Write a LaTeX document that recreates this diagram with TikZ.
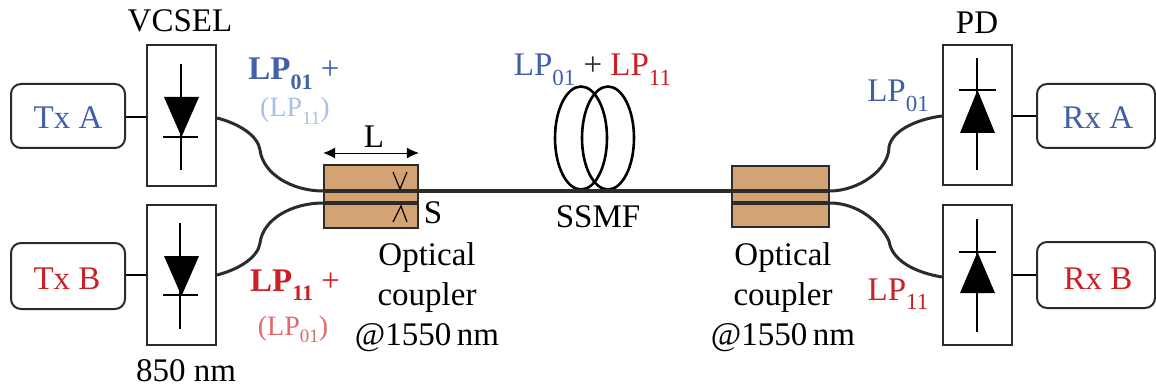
\documentclass[tikz,border=0pt]{standalone}
\usepackage{fontspec}
\setmainfont{Liberation Serif}
\usetikzlibrary{shapes.geometric,arrows.meta}
\definecolor{lpblue}{HTML}{4160A8}
\definecolor{lpred}{HTML}{CB2027}
\definecolor{lightblue}{HTML}{A8BFE6}
\definecolor{lightred}{HTML}{DE6A6E}
\definecolor{couplerfill}{HTML}{D4A373}
\definecolor{inkgray}{HTML}{2B2B2B}
\newcommand{\lpsize}[1]{\fontsize{#1}{#1}\selectfont}
\newcommand{\lpdown}[2]{\raisebox{-0.28em}{\fontsize{#1}{#1}\selectfont #2}}
\tikzset{
  lbl/.style={inner sep=0pt,outer sep=0pt,anchor=base,font=\lpsize{33}},
  endbox/.style={draw=inkgray,line width=2pt,rounded corners=10pt,fill=white,inner sep=0pt,minimum width=#1,minimum height=64pt},
  devbox/.style={draw=inkgray,line width=2pt,fill=white,inner sep=0pt,minimum width=69pt,minimum height=140pt},
  coupler/.style={draw=inkgray,line width=1.6pt,fill=couplerfill,inner sep=0pt,minimum width=96pt,minimum height=62pt},
  coil/.style={draw=black,line width=2.6pt,shape=ellipse,inner sep=0pt,minimum width=52pt,minimum height=103pt},
  wire/.style={draw=black,line width=2pt},
  fibre/.style={draw=inkgray,line width=3pt},
  mainfibre/.style={draw=inkgray,line width=4pt},
  diodeline/.style={draw=black,line width=2.4pt}
}
\begin{document}
\begin{tikzpicture}[x=1pt,y=-1pt]
\useasboundingbox (0,0) rectangle (1156,390);
% boxes
\node[endbox=114pt] (txa) at (68,116) {};
\node[endbox=114pt,minimum height=66pt] (txb) at (68,276) {};
\node[endbox=118pt] (rxa) at (1096,116) {};
\node[endbox=118pt,minimum height=66pt] (rxb) at (1096,275) {};
\node[devbox,minimum height=141pt] (va) at (181.5,115.5) {};
\node[devbox] (vb) at (181.5,275) {};
\node[devbox] (pa) at (977.5,115) {};
\node[devbox] (pb) at (977.5,275) {};
\node[coupler,minimum width=94pt,minimum height=63pt] (c1) at (371,196.5) {};
\node[coupler,minimum width=97pt,minimum height=61pt] (c2) at (780.5,196.5) {};
% coil
\node[coil] (coilA) at (581,138) {};
\node[coil] (coilB) at (608,138) {};
% named fibre ports
\coordinate (c1t) at (c1.west |- 0,191);
\coordinate (c1b) at (c1.west |- 0,203);
\coordinate (c1be) at (c1.east |- 0,203);
\coordinate (c2tw) at (c2.west |- 0,191);
\coordinate (c2bw) at (c2.west |- 0,203);
\coordinate (c2t) at (c2.east |- 0,191);
\coordinate (c2b) at (c2.east |- 0,203);
\coordinate (vaout) at (va.east |- 0,118);
\coordinate (vbout) at (vb.east |- 0,275);
\coordinate (paout) at (pa.west |- 0,116);
\coordinate (pbout) at (pb.west |- 0,277);
% electrical wires
\draw[wire] (txa.east |- 0,117) -- (va.west |- 0,117);
\draw[wire] (txb.east |- 0,275) -- (vb.west |- 0,275);
\draw[wire] (pa.east |- 0,116) -- (rxa.west |- 0,116);
\draw[wire] (pb.east |- 0,275) -- (rxb.west |- 0,275);
% fibres
\draw[fibre] (vaout) .. controls (240,124) and (258,136) .. (260,150) .. controls (263,174) and (292,191) .. (c1t);
\draw[fibre] (vbout) .. controls (240,269) and (258,257) .. (260,243) .. controls (263,219) and (292,203) .. (c1b);
\draw[fibre] (paout) .. controls (918,119) and (892,130) .. (889,147) .. controls (889,170) and (858,191) .. (c2t);
\draw[fibre] (pbout) .. controls (918,273) and (892,262) .. (889,241) .. controls (880,222) and (858,203) .. (c2b);
\draw[mainfibre] (c1t) -- (c2t);
\draw[mainfibre] (c1b) -- (c1be);
\draw[mainfibre] (c2bw) -- (c2b);
% small marks in coupler
\draw[black,line width=1.2pt] (393,172) -- (400,189) -- (407,172);
\draw[black,line width=1.2pt] (393,222) -- (401,206) -- (407,222);
% L dimension
\draw[{Latex[length=12pt,width=11pt]}-{Latex[length=12pt,width=11pt]},black,line width=0.8pt] (c1.west |- 0,153) -- (c1.east |- 0,153);
% diodes
\draw[diodeline] (181,64) -- (181,170);
\fill[black] (164,97) -- (199,97) -- (181.5,137) -- cycle;
\draw[diodeline] (163,137) -- (198,137);
\draw[diodeline] (180,223) -- (180,329);
\fill[black] (164,256) -- (199,256) -- (181.5,296) -- cycle;
\draw[diodeline] (163,295) -- (198,295);
\draw[diodeline] (977,58) -- (977,170);
\fill[black] (960,133) -- (995,133) -- (977.5,90) -- cycle;
\draw[diodeline] (959,90) -- (996,90);
\draw[diodeline] (977,219) -- (977,332);
\fill[black] (960,293) -- (995,293) -- (977.5,252) -- cycle;
\draw[diodeline] (959,252) -- (996,252);
% labels
\node[lbl] (t1) at (180,32) {VCSEL};
\node[lbl] (t2) at (186,381) {850 nm};
\node[lbl] (t3) at (977,34) {PD};
\node[lbl,text=lpblue] (t4) at (68,129) {Tx A};
\node[lbl,text=lpred] (t5) at (67,289) {Tx B};
\node[lbl,text=lpblue] (t6) at (1098,129) {Rx A};
\node[lbl,text=lpred] (t7) at (1098,289) {Rx B};
\node[lbl,text=lpblue] (t8) at (294,80) {\textbf{LP\lpdown{22}{01}} +};
\node[lbl,text=lightblue,font=\lpsize{28}] (t9) at (295,117) {(LP\lpdown{19}{11})};
\node[lbl,text=lpred] (t10) at (295,291) {\textbf{LP\lpdown{22}{11}} +};
\node[lbl,text=lightred,font=\lpsize{28}] (t11) at (293,335) {(LP\lpdown{19}{01})};
\node[lbl] (t12) at (374,148) {L};
\node[lbl] (t13) at (433,223) {S};
\node[lbl] (t14) at (427,265) {Optical};
\node[lbl] (t15) at (427,305) {coupler};
\node[lbl] (t16) at (427,345) {@1550\,nm};
\node[lbl] (t17) at (783,265) {Optical};
\node[lbl] (t18) at (783,305) {coupler};
\node[lbl] (t19) at (783,345) {@1550\,nm};
\node[lbl] (t20) at (598,227) {SSMF};
\node[lbl] (t21) at (592.5,76) {\textcolor{lpblue}{LP\lpdown{23}{01}} \textcolor{inkgray}{+} \textcolor{lpred}{LP\lpdown{23}{11}}};
\node[lbl,text=lpblue] (t22) at (898,102) {LP\lpdown{23}{01}};
\node[lbl,text=lpred] (t23) at (898,300) {LP\lpdown{23}{11}};
\end{tikzpicture}
\end{document}
